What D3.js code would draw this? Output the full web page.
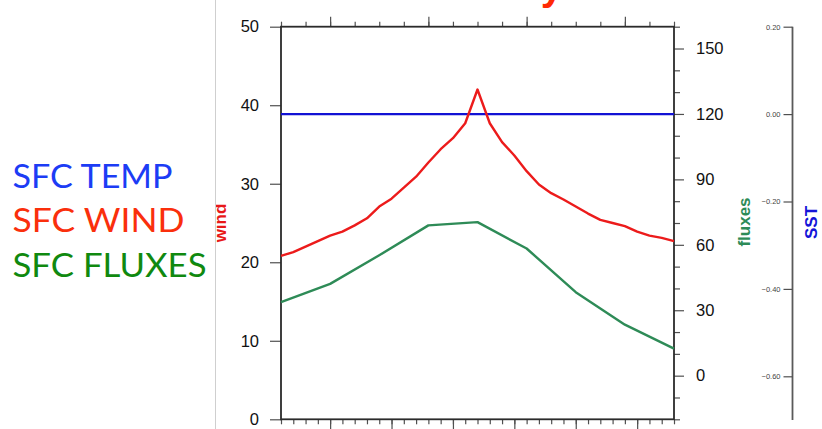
<!DOCTYPE html>
<html>
<head>
<meta charset="utf-8">
<script src="https://cdn.jsdelivr.net/npm/d3@7"></script>
<style>
  html, body { margin: 0; padding: 0; background: #fff; }
  svg { display: block; }
</style>
</head>
<body>
<div id="chart"></div>
<script>
// time steps of the composite (wind sampled every step, fluxes every 4th)
const windSteps = [0, 1, 2, 3, 4, 5, 6, 7, 8, 9, 10, 11, 12, 13, 14, 15, 16,
  17, 18, 19, 20, 21, 22, 23, 24, 25, 26, 27, 28, 29, 30, 31, 32];
const windValues = [20.8, 21.3, 22.0, 22.7, 23.4, 23.9, 24.7, 25.6, 27.1, 28.1,
  29.5, 30.9, 32.7, 34.4, 35.8, 37.7, 42.0, 37.7, 35.3, 33.6, 31.6, 29.9, 28.8,
  28.0, 27.1, 26.2, 25.4, 25.0, 24.6, 23.9, 23.4, 23.1, 22.7];

const fluxSteps = [0, 4, 8, 12, 16, 20, 24, 28, 32];
const fluxValues = [33.7, 42.1, 55.2, 68.9, 70.4, 58.3, 38.3, 23.4, 12.4];

const sstSteps = [0, 4, 8, 12, 16, 20, 24, 28, 32];
const sstValues = [0.0, 0.0, 0.0, 0.0, 0.0, 0.0, 0.0, 0.0, 0.0];

// axis ticks
const windTicks = [0, 10, 20, 30, 40, 50];
const fluxMajorTicks = [0, 30, 60, 90, 120, 150];
const fluxMinorTicks = [-20, -10, 10, 20, 40, 50, 70, 80, 100, 110, 130, 140, 160];
const sstTicks = [-0.6, -0.4, -0.2, 0.0, 0.2];
const bottomMajorTicks = [4, 9, 14, 19, 24, 29];
const topMajorTicks = [4, 12, 20, 28];

const legendItems = [
  { label: "SFC TEMP", color: "#1c3cf5", y: 188, len: 160 },
  { label: "SFC WIND", color: "#fa2f0c", y: 231.5, len: 172 },
  { label: "SFC FLUXES", color: "#10890f", y: 276.5, len: 194 }
];

document.addEventListener("DOMContentLoaded", function () {
  const W = 822, H = 429;
  const box = { left: 281, right: 674, top: 26.7, bottom: 419.3 };

  const svg = d3.select("#chart").append("svg")
    .attr("width", W)
    .attr("height", H);

  const x = d3.scaleLinear().domain([0, 32]).range([box.left, box.right]);
  const yWind = d3.scaleLinear().domain([0, 50]).range([box.bottom, box.top]);
  const yFlux = d3.scaleLinear().domain([-20, 160]).range([box.bottom, box.top]);
  const ySst = d3.scaleLinear().domain([-0.7, 0.2]).range([420, box.top]);

  // slide text on the left
  svg.append("g").selectAll("text")
    .data(legendItems)
    .join("text")
    .attr("x", 12.5)
    .attr("y", d => d.y)
    .attr("textLength", d => d.len)
    .attr("lengthAdjust", "spacingAndGlyphs")
    .attr("fill", d => d.color)
    .style("font-family", "Lato, 'Open Sans', sans-serif")
    .style("font-size", "32px")
    .text(d => d.label);

  // divider between text and the plot image
  svg.append("line")
    .attr("x1", 215.5).attr("x2", 215.5)
    .attr("y1", 0).attr("y2", H)
    .attr("stroke", "#cfcfcf")
    .attr("stroke-width", 1);

  svg.append("defs").append("clipPath")
    .attr("id", "plot-clip")
    .append("rect")
    .attr("x", 216).attr("y", 0)
    .attr("width", W - 216).attr("height", H);

  const g = svg.append("g").attr("clip-path", "url(#plot-clip)");

  // title, only its tail shows at the top edge
  g.append("text")
    .attr("x", 563)
    .attr("y", -0.5)
    .attr("text-anchor", "end")
    .attr("fill", "#ff2a05")
    .style("font-family", "'Liberation Sans', Arial, sans-serif")
    .style("font-weight", "bold")
    .style("font-size", "40px")
    .text("y");

  const font = "'Liberation Sans', Arial, Helvetica, sans-serif";
  const tickColor = "#505050";

  function styleAxis(sel, size) {
    sel.select(".domain").remove();
    sel.selectAll(".tick line").attr("stroke", tickColor).attr("stroke-width", 1.2);
    sel.selectAll(".tick text")
      .style("font-family", font)
      .style("font-size", size)
      .attr("fill", "#111");
  }

  // left axis (wind)
  g.append("g")
    .attr("transform", `translate(${box.left},0)`)
    .call(d3.axisLeft(yWind).tickValues(windTicks).tickSize(11).tickPadding(11))
    .call(a => styleAxis(a, "16.5px"));

  // right axis (fluxes), minor then major
  g.append("g")
    .attr("transform", `translate(${box.right},0)`)
    .call(d3.axisRight(yFlux).tickValues(fluxMinorTicks).tickSize(6).tickFormat(""))
    .call(a => styleAxis(a, "16.5px"));
  g.append("g")
    .attr("transform", `translate(${box.right},0)`)
    .call(d3.axisRight(yFlux).tickValues(fluxMajorTicks).tickSize(10).tickPadding(12))
    .call(a => styleAxis(a, "16.5px"));

  // bottom axis: minor every step, labels fall below the frame
  g.append("g")
    .attr("transform", `translate(0,${box.bottom})`)
    .call(d3.axisBottom(x).tickValues(d3.range(0, 33, 1)).tickSize(5).tickFormat(""))
    .call(a => styleAxis(a, "16.5px"));
  g.append("g")
    .attr("transform", `translate(0,${box.bottom})`)
    .call(d3.axisBottom(x).tickValues(bottomMajorTicks).tickSize(11).tickFormat(""))
    .call(a => styleAxis(a, "16.5px"));

  // top axis
  g.append("g")
    .attr("transform", `translate(0,${box.top})`)
    .call(d3.axisTop(x).tickValues(d3.range(0, 33, 2)).tickSize(5).tickFormat(""))
    .call(a => styleAxis(a, "16.5px"));
  g.append("g")
    .attr("transform", `translate(0,${box.top})`)
    .call(d3.axisTop(x).tickValues(topMajorTicks).tickSize(10).tickFormat(""))
    .call(a => styleAxis(a, "16.5px"));

  // SST axis, offset to the far right
  const sstAxis = g.append("g")
    .attr("transform", "translate(792.5,0)")
    .call(d3.axisLeft(ySst).tickValues(sstTicks).tickSize(9).tickPadding(3)
      .tickFormat(d3.format(".2f")));
  sstAxis.select(".domain")
    .attr("d", `M0,${ySst(0.2)}V${ySst(-0.7)}`)
    .attr("stroke", "#5a5a5a")
    .attr("stroke-width", 1.8);
  sstAxis.selectAll(".tick line").attr("stroke", tickColor).attr("stroke-width", 1.2);
  sstAxis.selectAll(".tick text")
    .style("font-family", font)
    .style("font-size", "7.5px")
    .attr("fill", "#444");

  // plot frame
  g.append("rect")
    .attr("x", box.left)
    .attr("y", box.top)
    .attr("width", box.right - box.left)
    .attr("height", box.bottom - box.top)
    .attr("fill", "none")
    .attr("stroke", "#2b2b2b")
    .attr("stroke-width", 1.8);

  // series
  const windLine = d3.line().x(d => x(d[0])).y(d => yWind(d[1]));
  const fluxLine = d3.line().x(d => x(d[0])).y(d => yFlux(d[1]));
  const sstLine = d3.line().x(d => x(d[0])).y(d => ySst(d[1]));

  g.append("path")
    .datum(d3.zip(sstSteps, sstValues))
    .attr("d", sstLine)
    .attr("fill", "none")
    .attr("stroke", "#1212d4")
    .attr("stroke-width", 2.4);

  g.append("path")
    .datum(d3.zip(fluxSteps, fluxValues))
    .attr("d", fluxLine)
    .attr("fill", "none")
    .attr("stroke", "#2e8b57")
    .attr("stroke-width", 2.4)
    .attr("stroke-linejoin", "round");

  g.append("path")
    .datum(d3.zip(windSteps, windValues))
    .attr("d", windLine)
    .attr("fill", "none")
    .attr("stroke", "#ec1b1b")
    .attr("stroke-width", 2.4)
    .attr("stroke-linejoin", "round");

  // axis titles
  const titles = [
    { text: "wind", x: 226, y: 223, color: "#e81818" },
    { text: "fluxes", x: 750, y: 222, color: "#2e8b57" },
    { text: "SST", x: 817, y: 222.5, color: "#1414d8" }
  ];
  g.append("g").selectAll("text")
    .data(titles)
    .join("text")
    .attr("transform", d => `translate(${d.x},${d.y}) rotate(-90)`)
    .attr("text-anchor", "middle")
    .attr("fill", d => d.color)
    .style("font-family", font)
    .style("font-weight", "bold")
    .style("font-size", "17px")
    .text(d => d.text);
});
</script>
</body>
</html>
